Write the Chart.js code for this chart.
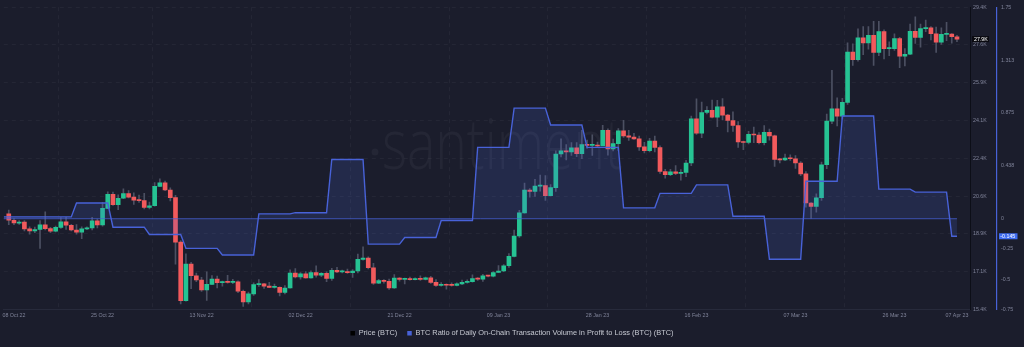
<!DOCTYPE html>
<html>
<head>
<meta charset="utf-8">
<title>BTC price and daily on-chain profit/loss ratio</title>
<script src="https://cdn.jsdelivr.net/npm/chart.js@4.4.1/dist/chart.umd.min.js"></script>
<style>
  html, body { margin: 0; padding: 0; background: #1b1d2c; }
  #wrap { width: 1024px; height: 347px; position: relative; }
</style>
</head>
<body>
<div id="wrap"><canvas id="chart"></canvas></div>
<script>
// Daily BTC candles, first candle on startDate (one row per month)
const startDate = '2022-10-07';

const open = [
  19830, 19530, 19400, 19440, 19130, 19040, 19100, 19320, 19140, 19020, 19200, 19460, 19300, 19080, 18980, 19130, 19180, 19500, 19310, 20080, 20730, 20250, 20550, 20770, 20600,
  20460, 20440, 20120, 20200, 21100, 21260, 20930, 20580, 18520, 15800, 17500, 16960, 16760, 16300, 16560, 16800, 16640, 16660, 16650, 16680, 16240, 15750, 16120, 16550, 16580, 16480, 16420, 16420, 16190, 16390,
  17080, 16910, 17050, 16860, 17110, 16990, 17070, 16830, 17210, 17140, 17140, 17100, 17180, 17720, 17780, 17330, 16620, 16730, 16700, 16390, 16850, 16790, 16800, 16780, 16800, 16790, 16860, 16650, 16510, 16560, 16520,
  16510, 16580, 16650, 16680, 16830, 16800, 16950, 16940, 17110, 17180, 17420, 17860, 18800, 19870, 20930, 20870, 21110, 21140, 20670, 21040, 22600, 22740, 22700, 22880, 22610, 23040, 23000, 23010, 22970, 23700, 22830,
  23080, 23670, 23440, 23380, 23300, 22930, 22750, 23200, 22900, 21790, 21640, 21770, 21700, 21750, 22180, 24230, 23560, 24520, 24620, 24300, 24780, 24400, 24150, 23920, 23160, 23130, 23510, 23480,
  23120, 23600, 23440, 22350, 22330, 22410, 22380, 22180, 21680, 20330, 20170, 20570, 22100, 24120, 24690, 24350, 24990, 27320, 26970, 27980, 27740, 28100, 27300, 28270, 27480, 27480, 27950, 27130, 27220, 28280, 28000,
  28410, 28440, 28170, 27780, 28140, 28150, 28030
];
const close = [
  19530, 19410, 19440, 19130, 19040, 19100, 19320, 19140, 19020, 19200, 19460, 19300, 19080, 18980, 19130, 19180, 19500, 19310, 20080, 20730, 20250, 20550, 20770, 20600, 20460,
  20440, 20120, 20200, 21100, 21260, 20930, 20580, 18520, 15800, 17500, 16960, 16760, 16300, 16560, 16800, 16640, 16660, 16650, 16680, 16240, 15750, 16120, 16550, 16580, 16480, 16420, 16420, 16190, 16390, 17080,
  16910, 17050, 16860, 17110, 16990, 17070, 16830, 17210, 17140, 17140, 17100, 17180, 17720, 17780, 17330, 16620, 16730, 16700, 16390, 16850, 16790, 16800, 16780, 16800, 16790, 16860, 16650, 16510, 16560, 16520, 16510,
  16580, 16650, 16680, 16830, 16800, 16950, 16940, 17110, 17180, 17420, 17860, 18800, 19870, 20930, 20870, 21110, 21140, 20670, 21040, 22600, 22740, 22700, 22880, 22610, 23040, 23000, 23010, 22970, 23700, 22830, 23080,
  23670, 23440, 23380, 23300, 22930, 22750, 23200, 22900, 21790, 21640, 21770, 21700, 21750, 22180, 24230, 23560, 24520, 24620, 24300, 24780, 24400, 24150, 23920, 23160, 23130, 23510, 23480, 23120,
  23600, 23440, 22350, 22330, 22410, 22380, 22180, 21680, 20330, 20170, 20570, 22100, 24120, 24690, 24350, 24990, 27320, 26970, 27980, 27740, 28100, 27300, 28270, 27480, 27480, 27950, 27130, 27220, 28280, 28000, 28410,
  28440, 28170, 27780, 28140, 28150, 28030, 27920
];
const high = [
  20000, 19610, 19520, 19520, 19230, 19210, 19510, 19920, 19200, 19260, 19650, 19680, 19340, 19330, 19220, 19230, 19660, 19580, 20360, 20850, 20840, 20710, 20990, 20900, 20800,
  20700, 20780, 20370, 21280, 21450, 21350, 21030, 20680, 18590, 17970, 17580, 17080, 16880, 17140, 16970, 16940, 16710, 16980, 16790, 16720, 16290, 16200, 16630, 16780, 16610, 16650, 16570, 16450, 16500, 17230,
  17290, 17100, 17150, 17190, 17420, 17110, 17140, 17300, 17350, 17220, 17270, 17240, 17960, 18300, 17840, 17530, 16790, 16780, 16800, 17010, 16870, 16850, 16900, 16860, 16960, 16900, 16930, 16780, 16640, 16590, 16630,
  16630, 16760, 16770, 17000, 16870, 17030, 16960, 17150, 17430, 17480, 17990, 19080, 19990, 21250, 21000, 21430, 21620, 21600, 21180, 22750, 23300, 23030, 23130, 23130, 23700, 23240, 23490, 23150, 23930, 23770, 23290,
  23780, 24160, 23700, 23560, 23430, 23140, 23330, 23430, 22980, 21890, 21890, 22060, 21880, 22310, 24350, 25150, 25000, 24790, 25100, 25080, 25170, 24440, 24550, 24100, 23200, 23650, 23850, 23590,
  23920, 23750, 23470, 22400, 22600, 22560, 22520, 22250, 21780, 20350, 20750, 22230, 24450, 26480, 25200, 25180, 27750, 27700, 28400, 28500, 28500, 28750, 28750, 28350, 27800, 28170, 28000, 27480, 28620, 28950, 28620,
  28800, 28500, 28480, 28440, 28700, 28180, 28100
];
const low = [
  19330, 19330, 19340, 19030, 18880, 18960, 18220, 19080, 18960, 18990, 19150, 19100, 19030, 18880, 18680, 19090, 19080, 19180, 19250, 20070, 20220, 20020, 20530, 20560, 20260,
  20350, 20060, 20050, 20180, 21090, 20900, 20420, 17500, 15650, 15780, 16360, 16690, 16230, 15820, 16540, 16400, 16480, 16610, 16590, 16180, 15540, 15650, 16050, 16470, 16370, 16410, 16380, 16020, 16120, 16380,
  16860, 16800, 16850, 16850, 16890, 16920, 16680, 16740, 17100, 17090, 17070, 16880, 17090, 17680, 17280, 16560, 16590, 16620, 16330, 16370, 16710, 16580, 16750, 16770, 16740, 16760, 16600, 16460, 16480, 16340, 16480,
  16490, 16540, 16610, 16660, 16740, 16700, 16900, 16910, 17100, 17150, 17340, 17830, 18730, 19860, 20600, 20630, 20880, 20450, 20660, 20870, 22460, 22330, 22530, 22470, 22380, 22860, 22530, 22890, 22980, 22540, 22740,
  22770, 23370, 23230, 23270, 22760, 22650, 22700, 22700, 21700, 21480, 21600, 21640, 21390, 21550, 22060, 23500, 23360, 24450, 24270, 23870, 24180, 23620, 23640, 22900, 22800, 23070, 23120, 23070,
  23020, 23240, 22020, 22190, 22290, 22300, 21930, 21600, 20140, 19620, 19900, 20450, 21920, 24000, 23900, 24220, 24900, 26700, 26900, 27200, 27450, 26700, 27150, 27000, 27150, 27400, 26600, 26680, 27200, 27720, 27550,
  28260, 27880, 27300, 27680, 27850, 27730, 27800
];

// Weekly ratio of on-chain volume in profit to loss (each value holds for 7 days)
const ratioWeekStart = [
  '2022-10-06', '2022-10-13', '2022-10-20', '2022-10-27', '2022-11-03', '2022-11-10', '2022-11-17',
  '2022-11-24', '2022-12-01', '2022-12-08', '2022-12-15', '2022-12-22', '2022-12-29', '2023-01-05',
  '2023-01-12', '2023-01-19', '2023-01-26', '2023-02-02', '2023-02-09', '2023-02-16', '2023-02-23',
  '2023-03-02', '2023-03-09', '2023-03-16', '2023-03-23', '2023-03-30', '2023-04-06'
];
const ratioValues = [
  0.015, 0.015, 0.13, -0.07, -0.13, -0.245, -0.30,
  0.04, 0.05, 0.49, -0.21, -0.155, -0.015, 0.59,
  0.915, 0.775, 0.59, 0.09, 0.21, 0.28, 0.02,
  -0.335, 0.31, 0.85, 0.245, 0.22, -0.145
];

// Axis ticks
const xTickLabels = ['08 Oct 22', '25 Oct 22', '13 Nov 22', '02 Dec 22', '21 Dec 22', '09 Jan 23',
                     '28 Jan 23', '16 Feb 23', '07 Mar 23', '26 Mar 23', '07 Apr 23'];
const priceTicks = [15400, 17150, 18900, 20650, 22400, 24150, 25900, 27650, 29400];
const ratioTicks = [-0.75, -0.5, -0.25, 0, 0.4375, 0.875, 1.3125, 1.75];

const legendNames = ['Price (BTC)', 'BTC Ratio of Daily On-Chain Transaction Volume in Profit to Loss (BTC) (BTC)'];

// Colors
const upColor = '#26c393';
const downColor = '#f25a5c';
const wickColor = '#4c5062';
const ratioColor = '#4862d8';
const gridColor = 'rgba(255,255,255,0.045)';
const tickColor = '#80849a';
const FONT = '"Liberation Sans", Arial, sans-serif';

// Day helpers
const DAY = 86400000;
const t0 = Date.parse(startDate + 'T00:00:00Z');
const MONTHS = ['Jan', 'Feb', 'Mar', 'Apr', 'May', 'Jun', 'Jul', 'Aug', 'Sep', 'Oct', 'Nov', 'Dec'];
const dayIndex = s => Math.round((Date.parse(s + 'T00:00:00Z') - t0) / DAY);
function fmtDay(i) {
  const d = new Date(t0 + i * DAY);
  return String(d.getUTCDate()).padStart(2, '0') + ' ' + MONTHS[d.getUTCMonth()] + ' ' + String(d.getUTCFullYear()).slice(2);
}

const lastDay = close.length - 1;
const xTickDays = xTickLabels.map(label => {
  for (let i = 0; i <= lastDay + 7; i++) if (fmtDay(i) === label) return i;
  return null;
}).filter(v => v !== null);

// Build the datasets
const bodies = close.map((c, i) => ({ x: i, y: [open[i], c] }));
const wicks = close.map((c, i) => ({ x: i, y: [low[i], high[i]] }));
const bodyColors = close.map((c, i) => (c >= open[i] ? upColor : downColor));

const ratioPoints = [];
ratioWeekStart.forEach((s, k) => {
  const d0 = dayIndex(s);
  ratioPoints.push({ x: d0, y: ratioValues[k] });
  ratioPoints.push({ x: Math.min(d0 + 6, lastDay), y: ratioValues[k] });
});

const fmtPrice = v => (v / 1000).toFixed(1) + 'K';
const fmtRatio = v => String(Number(v.toFixed(3)));

// Faint "santiment" watermark behind the marks
const watermark = {
  id: 'watermark',
  beforeDatasetsDraw(chart) {
    const { ctx } = chart;
    ctx.save();
    ctx.fillStyle = 'rgba(255,255,255,0.045)';
    ctx.font = '300 70px "Open Sans"';
    ctx.textBaseline = 'alphabetic';
    const w = ctx.measureText('santiment').width;
    ctx.translate(382, 169);
    ctx.scale(241 / w, 1);
    ctx.fillText('santiment', 0, 0);
    ctx.restore();
    ctx.save();
    ctx.fillStyle = 'rgba(255,255,255,0.045)';
    ctx.beginPath();
    ctx.arc(375, 152, 3.5, 0, Math.PI * 2);
    ctx.fill();
    ctx.restore();
  }
};

// Zero baseline of the ratio area and the last-value tags on both axes
const lastValues = {
  id: 'lastValues',
  afterDatasetsDraw(chart) {
    const { ctx, chartArea, scales } = chart;
    const y0 = scales.ratio.getPixelForValue(0);
    ctx.save();
    ctx.strokeStyle = 'rgba(72,98,216,0.75)';
    ctx.lineWidth = 1;
    ctx.beginPath();
    ctx.moveTo(chartArea.left, y0);
    ctx.lineTo(scales.x.getPixelForValue(lastDay), y0);
    ctx.stroke();
    ctx.restore();
  },
  afterDraw(chart) {
    const { ctx, scales } = chart;
    ctx.save();
    ctx.font = '5.3px ' + FONT;
    ctx.textAlign = 'left';
    ctx.textBaseline = 'middle';

    const py = scales.price.getPixelForValue(close[lastDay]);
    ctx.fillStyle = '#0a0a10';
    ctx.fillRect(scales.price.left + 2, py - 3, 17, 6);
    ctx.fillStyle = '#ffffff';
    ctx.fillText(fmtPrice(close[lastDay]), scales.price.left + 4, py + 0.3);

    const lastRatio = ratioValues[ratioValues.length - 1];
    const ry = scales.ratio.getPixelForValue(lastRatio);
    ctx.fillStyle = '#3f6cf0';
    ctx.fillRect(scales.ratio.left + 2, ry - 3, 18.5, 6);
    ctx.fillStyle = '#ffffff';
    ctx.fillText(fmtRatio(lastRatio), scales.ratio.left + 3.3, ry + 0.3);
    ctx.restore();
  }
};

// hide the grid line on the outer ticks (the bottom one sits on the x axis)
const xGrid = ctx => (ctx.index === 0 || ctx.index === ctx.scale.ticks.length - 1) ? 'transparent' : gridColor;
const priceGrid = ctx => (ctx.index === 0 ? 'transparent' : gridColor);

Chart.defaults.font.family = FONT;

new Chart(document.getElementById('chart'), {
  type: 'bar',
  data: {
    datasets: [
      {
        type: 'line',
        label: legendNames[1],
        data: ratioPoints,
        yAxisID: 'ratio',
        borderColor: ratioColor,
        borderWidth: 1.4,
        backgroundColor: 'rgba(80,105,225,0.17)',
        fill: 'origin',
        pointRadius: 0,
        tension: 0,
        order: 0
      },
      {
        label: legendNames[0],
        data: bodies,
        yAxisID: 'price',
        backgroundColor: bodyColors,
        barThickness: 4,
        minBarLength: 1,
        grouped: false,
        order: 1
      },
      {
        label: 'wicks',
        data: wicks,
        yAxisID: 'price',
        backgroundColor: wickColor,
        barThickness: 1,
        grouped: false,
        order: 2
      }
    ]
  },
  options: {
    responsive: true,
    maintainAspectRatio: false,
    animation: false,
    layout: { padding: { top: 3, bottom: 0, left: 0, right: 0 } },
    plugins: {
      tooltip: { enabled: false },
      legend: {
        position: 'bottom',
        labels: {
          boxWidth: 4.5,
          boxHeight: 4.5,
          padding: 10,
          color: '#c6c9d2',
          font: { size: 7.4 },
          generateLabels: () => [
            { text: legendNames[0], fillStyle: '#000000', strokeStyle: '#000000', lineWidth: 0, fontColor: '#c6c9d2', hidden: false },
            { text: legendNames[1], fillStyle: ratioColor, strokeStyle: ratioColor, lineWidth: 0, fontColor: '#c6c9d2', hidden: false }
          ]
        }
      }
    },
    scales: {
      x: {
        type: 'linear',
        min: -0.96,
        max: 184.5,
        offset: false,
        afterBuildTicks: scale => { scale.ticks = xTickDays.map(v => ({ value: v })); },
        afterFit: scale => { scale.height = 10.2; },
        ticks: {
          callback: v => fmtDay(v),
          color: tickColor,
          font: { size: 5.3 },
          padding: 2.5,
          maxRotation: 0,
          autoSkip: false
        },
        grid: { drawTicks: false, color: xGrid },
        border: { color: '#272a3b', dash: [4, 4] }
      },
      price: {
        type: 'linear',
        position: 'right',
        min: 15400,
        max: 29400,
        afterBuildTicks: scale => { scale.ticks = priceTicks.map(v => ({ value: v })); },
        afterFit: scale => { scale.width = 27; },
        ticks: { callback: v => fmtPrice(v), color: tickColor, font: { size: 5.3 }, padding: 3 },
        grid: { drawTicks: false, color: priceGrid },
        border: { color: '#0c0e17', dash: [4, 4] }
      },
      ratio: {
        type: 'linear',
        position: 'right',
        min: -0.75,
        max: 1.75,
        afterBuildTicks: scale => { scale.ticks = ratioTicks.map(v => ({ value: v })); },
        afterFit: scale => { scale.width = 27; },
        ticks: { callback: v => fmtRatio(v), color: tickColor, font: { size: 5.3 }, padding: 4 },
        grid: { display: false, drawTicks: false },
        border: { color: ratioColor, width: 1.2 }
      }
    }
  },
  plugins: [watermark, lastValues]
});
</script>
</body>
</html>
